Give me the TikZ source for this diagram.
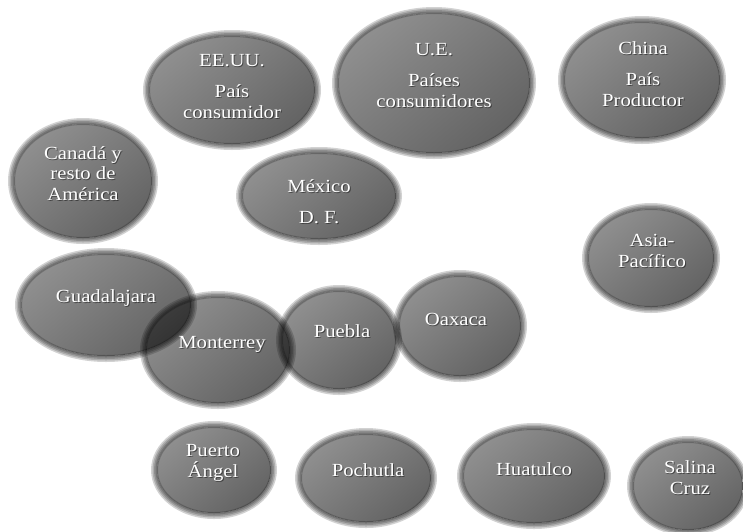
\documentclass[tikz,border=0pt]{standalone}
\usepackage{fontspec}
\setmainfont{Liberation Serif}[FakeStretch=1.12]
\usetikzlibrary{shapes.geometric}
\definecolor{gtop}{gray}{0.56}
\definecolor{gmid}{gray}{0.47}
\definecolor{gbot}{gray}{0.39}
\tikzset{
  blobnode/.style={ellipse, inner sep=0pt, draw=none,
    top color=gtop, middle color=gmid, bottom color=gbot, shading angle=40},
  halo/.style={fill=black!60, fill opacity=0.29, draw=none, even odd rule},
  lbl/.style={text=white, align=center, anchor=base,
    font=\fontsize{18.5}{20.5}\selectfont, inner sep=0pt},
  lblshadow/.style={lbl, text=black, text opacity=0.45}
}
\newcommand\myblob[5]{%
  \fill[halo] (#2,#3) ellipse [x radius=#4+6, y radius=#5+6]
              (#2,#3) ellipse [x radius=#4-1, y radius=#5-1];
  \foreach \k in {4.5,3,1.5}{%
    \fill[halo] (#2,#3) ellipse [x radius=#4+\k, y radius=#5+\k]
                (#2,#3) ellipse [x radius=#4, y radius=#5];}
  \node[blobnode, minimum width={2*#4*1pt}, minimum height={2*#5*1pt}] (#1) at (#2,#3) {};%
}
\newcommand\mylabel[4]{%
  \node[lblshadow] (#1-s) at (#2+1,#3+1.2) {#4};
  \node[lbl] (#1) at (#2,#3) {#4};%
}
\begin{document}
\begin{tikzpicture}[x=1pt,y=-1pt]
\fill[white] (0,0) rectangle (743,531);
\useasboundingbox (0,0) rectangle (743,531);
\begin{scope}[blend mode=multiply]
\myblob{eeuu}{232}{90}{83}{54}
\myblob{ue}{434}{83}{96}{70}
\myblob{china}{642}{80}{78}{58}
\myblob{canada}{83}{181}{69}{57}
\myblob{mexico}{319}{196}{77}{43}
\myblob{asia}{651}{258}{63}{49}
\myblob{guad}{106}{305}{85}{51}
\myblob{mont}{218}{350}{72}{53}
\myblob{puebla}{339}{340}{57}{49}
\myblob{oaxaca}{460}{326}{61}{50}
\myblob{puerto}{214}{470}{57}{43}
\myblob{pochutla}{366}{478}{65}{44}
\myblob{huatulco}{534}{476}{71}{47}
\myblob{salina}{688}{486}{55}{44}
\end{scope}
\mylabel{eeuu-t}{232}{118}{EE.UU.\\[10.5pt]País\\consumidor}
\mylabel{ue-t}{434}{107}{U.E.\\[10.5pt]Países\\consumidores}
\mylabel{china-t}{643}{106}{China\\[10.5pt]País\\Productor}
\mylabel{canada-t}{83}{200}{Canadá y\\resto de\\América}
\mylabel{mexico-t}{319}{223}{México\\[10.5pt]D. F.}
\mylabel{asia-t}{652}{267}{Asia-\\Pacífico}
\mylabel{guad-t}{106}{302}{Guadalajara}
\mylabel{mont-t}{222}{348}{Monterrey}
\mylabel{puebla-t}{342}{337}{Puebla}
\mylabel{oaxaca-t}{456}{325}{Oaxaca}
\mylabel{puerto-t}{213}{477}{Puerto\\Ángel}
\mylabel{pochutla-t}{368}{476}{Pochutla}
\mylabel{huatulco-t}{534}{475}{Huatulco}
\mylabel{salina-t}{690}{494}{Salina\\Cruz}
\end{tikzpicture}
\end{document}
